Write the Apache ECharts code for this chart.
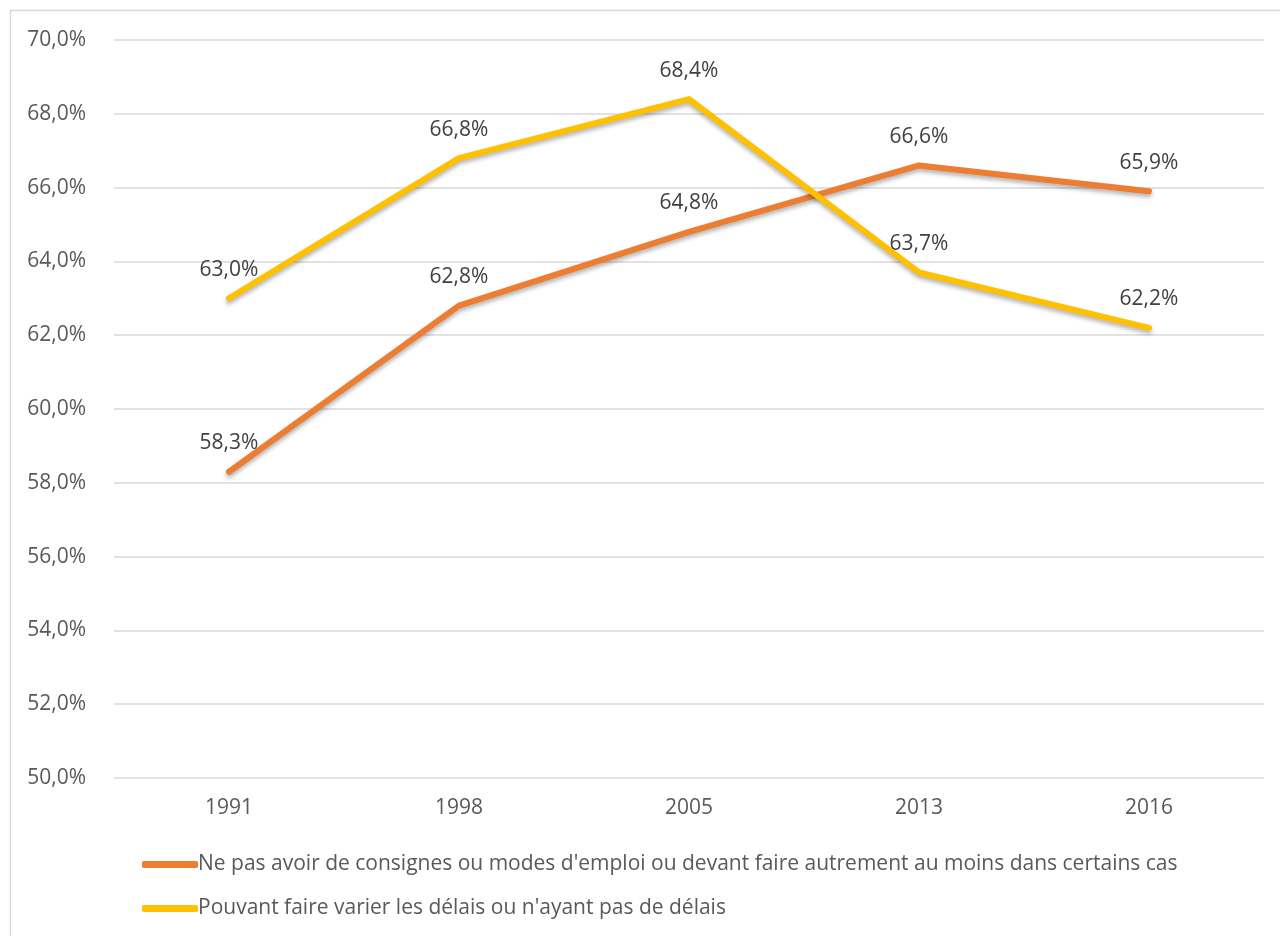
<!DOCTYPE html>
<html>
<head>
<meta charset="utf-8">
<script src="https://cdn.jsdelivr.net/npm/echarts@6/dist/echarts.min.js"></script>
<style>
  html, body { margin: 0; padding: 0; background: #fff; }
  #chart { width: 1280px; height: 936px; }
</style>
</head>
<body>
<div id="chart"></div>
<script>
const years = ['1991', '1998', '2005', '2013', '2016']
const seriesNames = [
  "Ne pas avoir de consignes ou modes d'emploi ou devant faire autrement au moins dans certains cas",
  "Pouvant faire varier les délais ou n'ayant pas de délais"
]
const consignes = [58.3, 62.8, 64.8, 66.6, 65.9]
const delais = [63.0, 66.8, 68.4, 63.7, 62.2]
const colors = ['#ED7D31', '#FFC000']

const font = '"Open Sans", "Noto Sans", sans-serif'
const fmt = v => v.toFixed(1).replace('.', ',') + '%'

const chart = echarts.init(document.getElementById('chart'))

function lineSeries(name, data, color) {
  return {
    name, data, type: 'line',
    symbol: 'circle', symbolSize: 0, showSymbol: true,
    lineStyle: { color, width: 6, cap: 'round', join: 'round',
      shadowColor: 'rgba(0,0,0,0.3)', shadowBlur: 4, shadowOffsetY: 3 },
    itemStyle: { color },
    label: {
      show: true, position: 'top', distance: 18,
      color: '#404040', fontSize: 21, fontFamily: font,
      formatter: p => fmt(p.value)
    },
    emphasis: { disabled: true }
  }
}

chart.setOption({
  animation: false,
  graphic: [{
    type: 'rect', shape: { x: 10.5, y: 10.5, width: 1300, height: 960 },
    style: { fill: 'none', stroke: '#d9d9d9', lineWidth: 1.5 }, silent: true
  }],
  grid: { left: 114, right: 16, top: 40, bottom: 158 },
  xAxis: {
    type: 'category', data: years, boundaryGap: true,
    axisLine: { show: false }, axisTick: { show: false },
    axisLabel: { color: '#595959', fontSize: 21, fontFamily: font, margin: 20 }
  },
  yAxis: {
    type: 'value', min: 50, max: 70, interval: 2,
    axisLine: { show: false }, axisTick: { show: false },
    splitLine: { lineStyle: { color: '#d9d9d9', width: 1.5 } },
    axisLabel: { color: '#595959', fontSize: 21, fontFamily: font, margin: 28, formatter: v => fmt(v) }
  },
  legend: {
    orient: 'vertical', left: 137, top: 849, itemGap: 23,
    itemWidth: 56, itemHeight: 7, icon: 'roundRect',
    textStyle: { color: '#595959', fontSize: 21, fontFamily: font, padding: [0, 0, 0, -5] },
    data: seriesNames
  },
  series: [
    lineSeries(seriesNames[0], consignes, colors[0]),
    lineSeries(seriesNames[1], delais, colors[1])
  ]
})
</script>
</body>
</html>
